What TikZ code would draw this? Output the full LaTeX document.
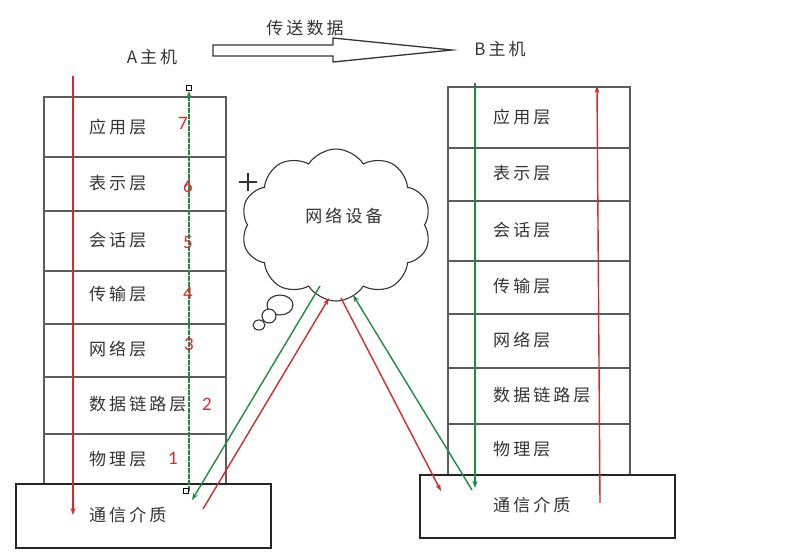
\documentclass[tikz,border=0pt]{standalone}
\usepackage{fontspec}
\newfontfamily\cjk[LetterSpace=18]{Noto Sans CJK SC}
\newfontfamily\numfont{Carlito}
\usetikzlibrary{shapes.symbols,arrows.meta,calc}
\definecolor{framegray}{HTML}{5C5C5C}
\definecolor{myred}{HTML}{D42A2A}
\definecolor{mygreen}{HTML}{1E8C3C}
\tikzset{
  layerbox/.style={draw=framegray,line width=1.5pt,minimum width=182pt,inner sep=0pt,anchor=north west},
  mediabox/.style={draw=black!85,line width=1.5pt,fill=white,minimum width=255pt,inner sep=0pt,anchor=north west},
  lbl/.style={font=\cjk\fontsize{17}{17}\selectfont,text=black!80,anchor=west,inner sep=0pt},
  num/.style={font=\numfont\fontsize{19}{19}\selectfont,text=myred,inner sep=0pt},
  redarrow/.style={draw=myred,line width=1.4pt,-{Stealth[length=7pt,width=5pt]}},
  greenarrow/.style={draw=mygreen,line width=1.4pt,-{Stealth[length=7pt,width=5pt]}},
  handle/.style={draw=black,line width=0.8pt,fill=white,minimum size=5pt,inner sep=0pt},
  bubble/.style={draw=black!80,line width=1.1pt,fill=white}
}
\begin{document}
\begin{tikzpicture}[x=1pt,y=-1pt]
\useasboundingbox (0,0) rectangle (802,558);
% ---------- Stack A ----------
\node[layerbox,minimum height=60pt] (a7) at (43,96) {};
\node[layerbox,minimum height=54pt] (a6) at (43,156) {};
\node[layerbox,minimum height=60pt] (a5) at (43,210) {};
\node[layerbox,minimum height=53pt] (a4) at (43,270) {};
\node[layerbox,minimum height=53pt] (a3) at (43,323) {};
\node[layerbox,minimum height=57pt] (a2) at (43,376) {};
\node[layerbox,minimum height=50pt] (a1) at (43,433) {};
\node[mediabox,minimum height=64pt] (am) at (15,483) {};
\node[lbl] (ta7) at (89,127) {应用层};
\node[lbl] (ta6) at (89,183) {表示层};
\node[lbl] (ta5) at (89,240) {会话层};
\node[lbl] (ta4) at (89,294) {传输层};
\node[lbl] (ta3) at (89,349) {网络层};
\node[lbl] (ta2) at (89,404) {数据链路层};
\node[lbl] (ta1) at (89,459) {物理层};
\node[lbl] (tam) at (89,515) {通信介质};
% ---------- Stack B ----------
\node[layerbox,minimum height=61pt] (b7) at (447,86) {};
\node[layerbox,minimum height=53pt] (b6) at (447,147) {};
\node[layerbox,minimum height=60pt] (b5) at (447,200) {};
\node[layerbox,minimum height=53pt] (b4) at (447,260) {};
\node[layerbox,minimum height=54pt] (b3) at (447,313) {};
\node[layerbox,minimum height=56pt] (b2) at (447,367) {};
\node[layerbox,minimum height=51pt] (b1) at (447,423) {};
\node[mediabox,minimum height=63pt] (bm) at (419,474) {};
\node[lbl] (tb7) at (493,117) {应用层};
\node[lbl] (tb6) at (493,173) {表示层};
\node[lbl] (tb5) at (493,230) {会话层};
\node[lbl] (tb4) at (493,286) {传输层};
\node[lbl] (tb3) at (493,340) {网络层};
\node[lbl] (tb2) at (493,395) {数据链路层};
\node[lbl] (tb1) at (493,449) {物理层};
\node[lbl] (tbm) at (493,505) {通信介质};
% ---------- Titles ----------
\node[lbl,anchor=center] (ta) at (152,57) {A主机};
\node[lbl,anchor=center] (tb) at (500,49) {B主机};
\node[lbl,anchor=center] (tsend) at (305,28) {传送数据};
\draw[draw=black!80,line width=1.3pt,fill=white] (213,45) -- (333,45) -- (333,38) -- (452,50) -- (333,62) -- (333,56) -- (213,56) -- cycle;
% ---------- Cloud ----------
\node[cloud,cloud puffs=10,cloud puff arc=115,aspect=1.25,draw=black!80,line width=1.1pt,minimum width=190pt,minimum height=152pt,inner sep=0pt] (cloud) at (336,225) {};
\node[lbl,anchor=center] (tcloud) at (344,216) {网络设备};
\draw[bubble] (280,305) ellipse (13 and 10);
\draw[bubble] (269,316) circle (7);
\draw[bubble] (259,325) ellipse (6 and 5);
\coordinate (pc) at (248,182);
\draw[black!80,line width=1.8pt] ($(pc)+(-9,0)$) -- ($(pc)+(9,0)$) ($(pc)+(0,-9)$) -- ($(pc)+(0,9)$);
% ---------- connector end points ----------
\coordinate (ar1) at (73,76);   \coordinate (ar2) at (73,515);
\coordinate (ag1) at (189,491); \coordinate (ag2) at (189,91);
\coordinate (gd1) at (320,286); \coordinate (gd2) at (192,500);
\coordinate (ru1) at (203,509); \coordinate (ru2) at (329,298);
\coordinate (rd1) at (341,298); \coordinate (rd2) at (441,491);
\coordinate (gu1) at (472,490); \coordinate (gu2) at (353,295);
\coordinate (bg1) at (475,83);  \coordinate (bg2) at (475,488);
\coordinate (br1) at (600,503); \coordinate (br2) at (597,86);
% ---------- connectors ----------
\draw[redarrow] (ar1) -- (ar2);
\draw[greenarrow,line width=1.1pt,dash pattern=on 5pt off 1pt] (ag1) -- (ag2);
\node[handle] (h1) at (189,88) {};
\node[handle] (h2) at (186,491) {};
\draw[greenarrow] (gd1) -- (gd2);
\draw[redarrow] (ru1) -- (ru2);
\draw[redarrow] (rd1) -- (rd2);
\draw[greenarrow] (gu1) -- (gu2);
\draw[greenarrow] (bg1) -- (bg2);
\draw[redarrow] (br1) -- (br2);
% ---------- layer numbers ----------
\node[num] (n7) at (183,123) {7};
\node[num] (n6) at (188,186) {6};
\node[num] (n5) at (188,242) {5};
\node[num] (n4) at (188,293) {4};
\node[num] (n3) at (189,344) {3};
\node[num] (n2) at (207,404) {2};
\node[num] (n1) at (173,458) {1};
\end{tikzpicture}
\end{document}
